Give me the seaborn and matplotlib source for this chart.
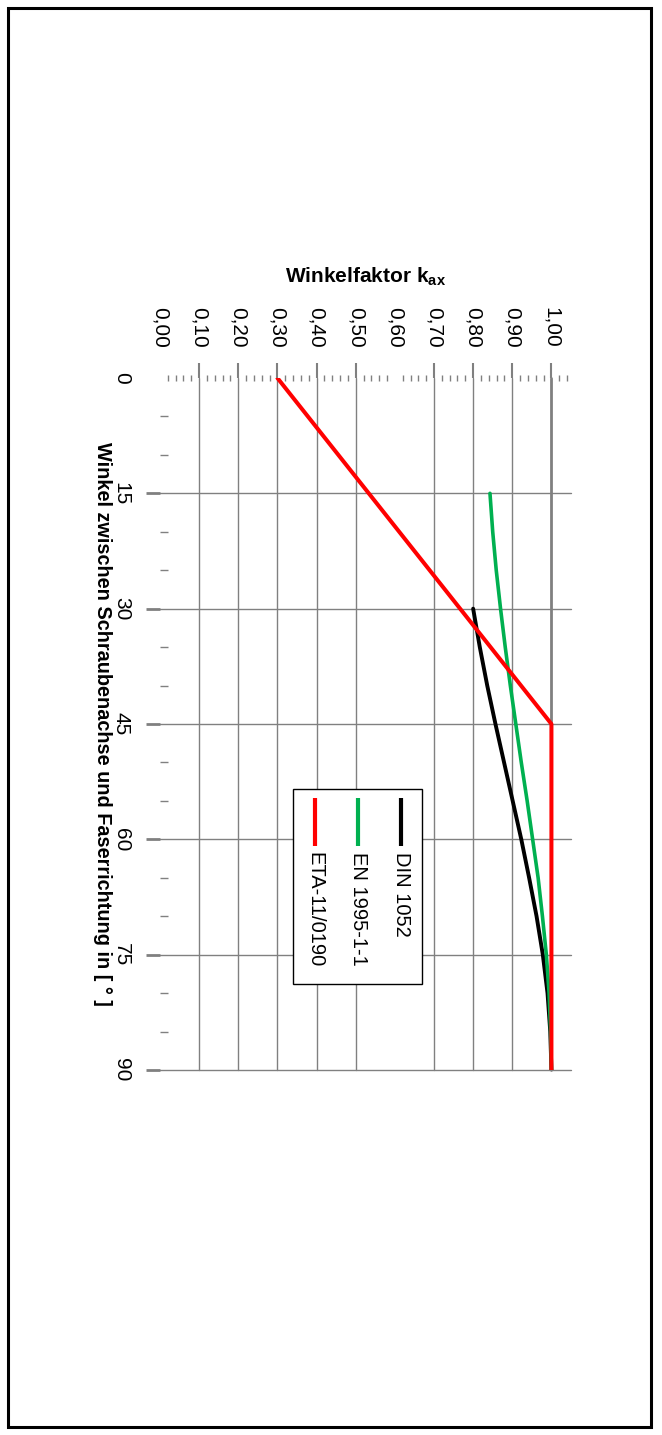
import numpy as np
import pandas as pd
import matplotlib
matplotlib.use("Agg")
import matplotlib.pyplot as plt
import seaborn as sns
from matplotlib.patches import Rectangle
from matplotlib.lines import Line2D
from matplotlib.ticker import FixedLocator, MultipleLocator

# ---------------- data ----------------
angle_din = [30, 35, 40, 45, 50, 55, 60, 65, 70, 75, 80, 85, 90]
k_din = [0.800, 0.817, 0.836, 0.857, 0.879, 0.901, 0.923, 0.943, 0.962, 0.978, 0.990, 0.997, 1.000]

angle_en = [15, 20, 25, 30, 35, 40, 45, 50, 55, 60, 65, 70, 75, 80, 85, 90]
k_en = [0.843, 0.850, 0.859, 0.870, 0.882, 0.895, 0.909, 0.923, 0.938, 0.952,
        0.966, 0.977, 0.987, 0.994, 0.998, 1.000]

angle_eta = [0, 45, 90]
k_eta = [0.30, 1.00, 1.00]

series_names = ["DIN 1052", "EN 1995-1-1", "ETA-11/0190"]
series_colors = ["#000000", "#00B050", "#FF0000"]

angle_ticks = [0, 15, 30, 45, 60, 75, 90]
k_ticks = [0.0, 0.1, 0.2, 0.3, 0.4, 0.5, 0.6, 0.7, 0.8, 0.9, 1.0]
k_ticklabels = ["0,00", "0,10", "0,20", "0,30", "0,40", "0,50", "0,60", "0,70", "0,80", "0,90", "1,00"]

xlabel_text = r"Winkelfaktor k$_\mathregular{ax}$"
ylabel_text = "Winkel zwischen Schraubenachse und Faserrichtung in [ ° ]"

# ---------------- style ----------------
sns.set_theme(style="white")
plt.rcParams["font.family"] = ["Liberation Sans", "DejaVu Sans"]
plt.rcParams["mathtext.fontset"] = "custom"
plt.rcParams["mathtext.rm"] = "Liberation Sans"
plt.rcParams["mathtext.bf"] = "Liberation Sans:bold"
plt.rcParams["text.color"] = "black"
plt.rcParams["axes.labelcolor"] = "black"
plt.rcParams["xtick.labelcolor"] = "black"
plt.rcParams["ytick.labelcolor"] = "black"

W, H = 662, 1435
fig = plt.figure(figsize=(W / 100, H / 100), dpi=100)
fig.patch.set_facecolor("white")

ax_l, ax_r, ax_t, ax_b = 160, 571, 378, 1070
ax = fig.add_axes([ax_l / W, 1 - ax_b / H, (ax_r - ax_l) / W, (ax_b - ax_t) / H])
ax.set_facecolor("white")

grid_c = "#808080"

data = [(angle_din, k_din, 2.8), (angle_en, k_en, 2.6), (angle_eta, k_eta, 2.9)]
for (ang, k, lw), name, col in zip(data, series_names, series_colors):
    df = pd.DataFrame({"Winkel": ang, "k": k})
    sns.lineplot(data=df, x="k", y="Winkel", orient="y", color=col, lw=lw,
                 ax=ax, legend=False, zorder=3)

for s in ax.spines.values():
    s.set_visible(False)

ax.set_axisbelow(True)
ax.set_xticks(k_ticks)
ax.set_xticklabels(k_ticklabels, rotation=-90, color="black")
ax.set_yticks(angle_ticks)
ax.set_yticklabels([str(a) for a in angle_ticks], rotation=-90, va="center", color="black")

ax.xaxis.tick_top()
ax.xaxis.set_label_position("top")
ax.tick_params(axis="x", which="major", top=True, bottom=False, labeltop=True,
               labelbottom=False, direction="out", length=11, width=1.5,
               color=grid_c, pad=11, labelsize=15, labelcolor="black")
minor_k = [i / 50 for i in range(0, 53) if i % 5 != 0]
ax.xaxis.set_minor_locator(FixedLocator(minor_k))
ax.tick_params(axis="x", which="minor", top=True, bottom=False, direction="inout",
               length=5, width=1, color=grid_c)

ax.tick_params(axis="y", which="major", left=True, right=False, direction="out",
               length=10, width=2, color=grid_c, pad=11, labelsize=15, labelcolor="black")
ax.yaxis.set_minor_locator(MultipleLocator(5))
ax.tick_params(axis="y", which="minor", left=True, right=False, direction="in",
               length=6, width=1, color=grid_c)

ax.grid(True, which="major", color=grid_c, lw=1.0)

ax.set_xlabel(xlabel_text, fontsize=15, fontweight="bold", rotation=0,
              va="center", ha="center", color="black")
ax.xaxis.set_label_coords(0.5, 1.146)
ax.set_ylabel(ylabel_text, fontsize=14.3, fontweight="bold", rotation=-90,
              va="center", ha="center", color="black")
ax.yaxis.set_label_coords(-0.1387, 0.5)

# ---------------- legend (drawn rotated like the chart) ----------------
ax.add_patch(Rectangle((0.3236, 0.1243), 0.6375 - 0.3236, 0.4061 - 0.1243,
                       transform=ax.transAxes, fc="white", ec="black", lw=1.0, zorder=5))
leg_x = [0.5864, 0.4818, 0.3771]
for name, col, xp in zip(series_names, series_colors, leg_x):
    ax.add_line(Line2D([xp, xp], [0.3931, 0.3237], transform=ax.transAxes, color=col,
                       lw=3, zorder=6, solid_capstyle="butt"))
    ax.text(xp, 0.3150, name, transform=ax.transAxes, rotation=-90, ha="center",
            va="top", fontsize=14.5, zorder=6, color="black")

ax.set_xlim(0, 1.05)
ax.set_ylim(90, 0)

# hide gridlines / ticks that are absent in the reference
xt = ax.xaxis.get_major_ticks()
xt[0].gridline.set_visible(False)
xt[0].tick2line.set_visible(False)
xt[6].gridline.set_visible(False)
xt[6].tick2line.set_visible(False)
xt[10].gridline.set_linewidth(2.0)
yt = ax.yaxis.get_major_ticks()
yt[0].gridline.set_visible(False)
yt[0].tick1line.set_visible(False)
for t in xt + yt:
    t.gridline.set_clip_on(False)

# outer frame
fig.add_artist(Rectangle((7.5 / W, 1 - 1426.5 / H), (650.5 - 7.5) / W, (1426.5 - 7.5) / H,
                         transform=fig.transFigure, fill=False, ec="black", lw=2.2))

fig.savefig("out.png", dpi=100)
